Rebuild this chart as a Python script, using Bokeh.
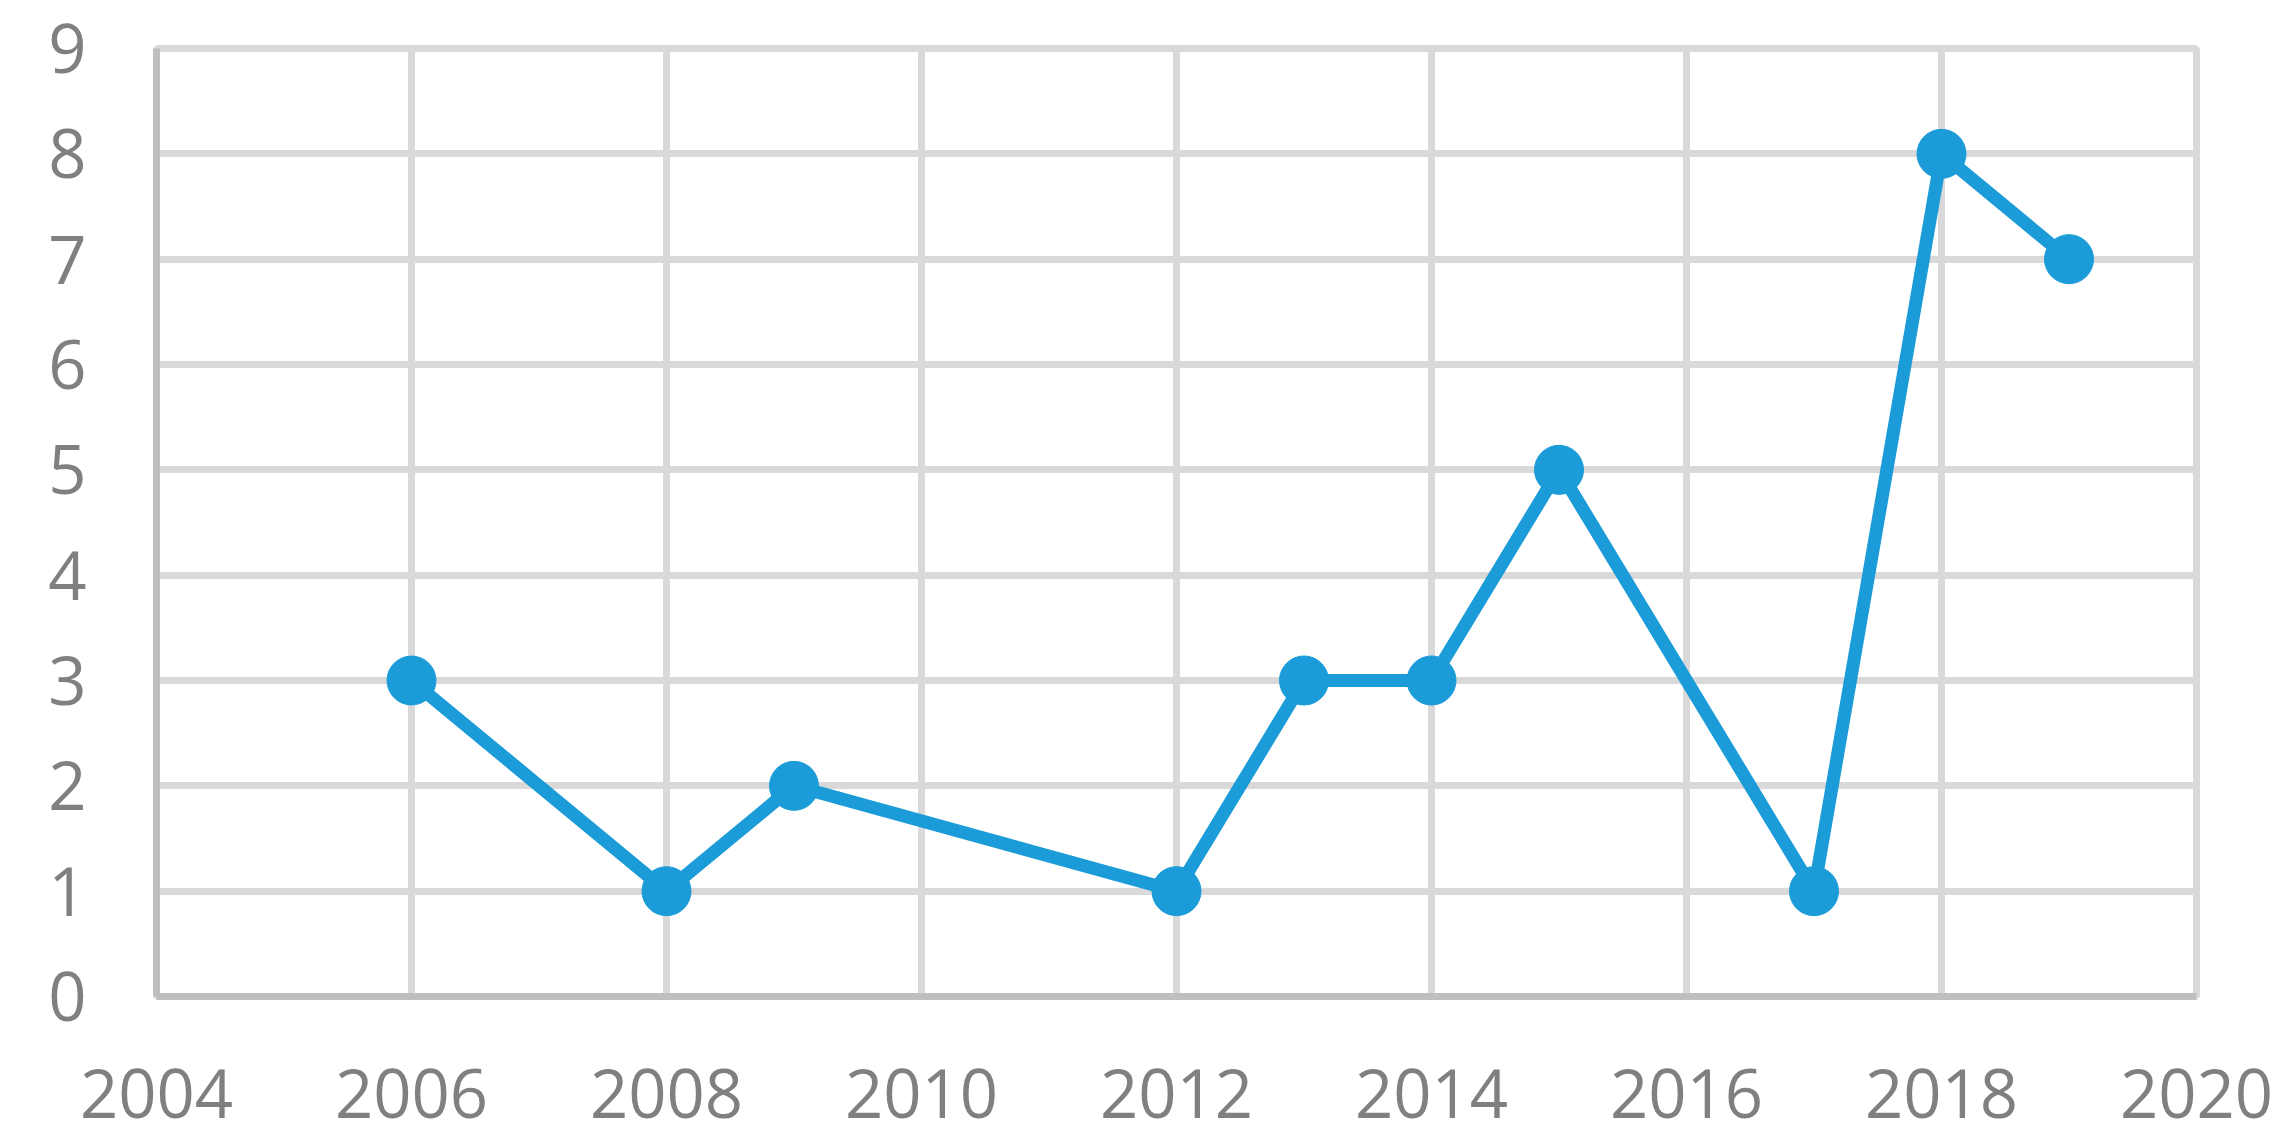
from bokeh.plotting import figure
from bokeh.embed import file_html
from bokeh.resources import INLINE
from bokeh.models import FixedTicker, Range1d

years = [2006, 2008, 2009, 2012, 2013, 2014, 2015, 2017, 2018, 2019]
values = [3, 1, 2, 1, 3, 3, 5, 1, 8, 7]
x_ticks = [2004, 2006, 2008, 2010, 2012, 2014, 2016, 2018, 2020]
y_ticks = [0, 1, 2, 3, 4, 5, 6, 7, 8, 9]

p = figure(width=2283, height=1146, output_backend="svg", toolbar_location=None,
           x_range=Range1d(2004, 2020), y_range=Range1d(0, 9),
           min_border_left=156, min_border_right=87, min_border_top=48, min_border_bottom=150)
p.outline_line_color = "#D9D9D9"
p.outline_line_width = 7
p.background_fill_color = "white"
p.border_fill_color = "white"

for ax, ticks in ((p.xaxis, x_ticks), (p.yaxis, y_ticks)):
    ax.ticker = FixedTicker(ticks=ticks)
    ax.axis_line_color = "#BFBFBF"
    ax.axis_line_width = 7
    ax.major_tick_line_color = None
    ax.minor_tick_line_color = None
    ax.major_tick_out = 0
    ax.major_tick_in = 0
    ax.major_label_text_font = "Open Sans"
    ax.major_label_text_font_size = "67px"
    ax.major_label_text_color = "#808080"

p.xaxis.major_label_standoff = 72
p.yaxis.major_label_standoff = 70

for g in (p.xgrid, p.ygrid):
    g.grid_line_color = "#D9D9D9"
    g.grid_line_width = 7
p.xgrid.ticker = FixedTicker(ticks=x_ticks)
p.ygrid.ticker = FixedTicker(ticks=y_ticks)

p.line(years, values, line_color="#1B9CD9", line_width=13)
p.scatter(years, values, size=49, fill_color="#1B9CD9", line_color="#1B9CD9")

open("out.html", "w").write(file_html(p, INLINE))
